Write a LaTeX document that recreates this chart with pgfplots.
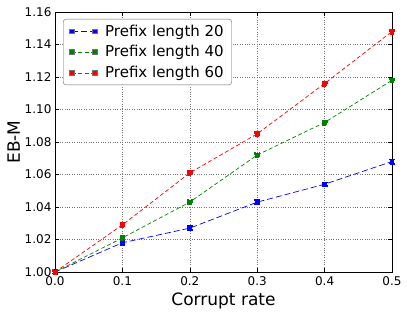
\documentclass[border=0pt]{standalone}
\usepackage{fontspec}
\setmainfont{DejaVu Sans}
\usepackage{pgfplots}
\pgfplotsset{compat=1.18}
\definecolor{mblue}{rgb}{0,0,1}
\definecolor{mgreen}{rgb}{0,0.5,0}
\definecolor{mred}{rgb}{1,0,0}
\pgfplotsset{
  mleg/.style 2 args={legend image code/.code={%
    \draw[#1, line width=0.7pt, sharp corners, #2] (0pt,0pt) -- (23pt,0pt);
    \draw[fill=#1, draw=black!55, line width=0.4pt, solid, sharp corners] (-2.4pt,-2.4pt) rectangle (2.4pt,2.4pt);
    \draw[fill=#1, draw=black!55, line width=0.4pt, solid, sharp corners] (20.6pt,-2.4pt) rectangle (25.4pt,2.4pt);
    \path (31pt,0pt);}}
}
\begin{document}
\begin{tikzpicture}[x=1pt,y=1pt]
\useasboundingbox (0,0) rectangle (407,314);
\begin{axis}[
  at={(55pt,42pt)}, anchor=south west,
  scale only axis, width=337pt, height=260pt,
  xmin=0, xmax=0.5, ymin=1.0, ymax=1.16,
  xtick={0,0.1,0.2,0.3,0.4,0.5},
  ytick={1.00,1.02,1.04,1.06,1.08,1.10,1.12,1.14,1.16},
  xticklabel style={yshift=-1pt, /pgf/number format/fixed, /pgf/number format/fixed zerofill, /pgf/number format/precision=1},
  yticklabel style={/pgf/number format/fixed, /pgf/number format/fixed zerofill, /pgf/number format/precision=2},
  /pgf/number format/assume math mode=true,
  tick label style={font=\fontsize{12}{14}\selectfont},
  label style={font=\fontsize{17}{20}\selectfont},
  xlabel={Corrupt rate}, ylabel={EB-M},
  ylabel style={yshift=-2pt},
  grid=major,
  major grid style={black!55, dotted, line width=0.5pt},
  tick align=inside, major tick length=4pt,
  tick style={black, line width=0.5pt},
  axis line style={line width=0.8pt},
  scaled ticks=false,
  legend style={at={(axis cs:0.0,1.16)}, anchor=north west, xshift=8pt, yshift=-7pt,
    font=\fontsize{15}{18}\selectfont, rounded corners=3pt, draw=black!60,
    row sep=4pt, inner xsep=6pt, inner ysep=3.5pt},
  legend cell align=left,
  every axis plot/.append style={line width=0.7pt, mark=square*, mark size=2.4pt,
    mark options={solid, draw=black!55, line width=0.4pt}},
]
\addplot[color=mblue, dash pattern=on 6pt off 3pt, mark options={fill=mblue},
  mleg={mblue}{dash pattern=on 6pt off 3pt}] coordinates {
 (0,1.000) (0.1,1.018) (0.2,1.027) (0.3,1.043) (0.4,1.054) (0.5,1.068)};
\addlegendentry{Prefix length 20}
\addplot[color=mgreen, dash pattern=on 4pt off 2.5pt, mark options={fill=mgreen},
  mleg={mgreen}{dash pattern=on 4pt off 2.5pt}] coordinates {
 (0,1.000) (0.1,1.021) (0.2,1.043) (0.3,1.072) (0.4,1.092) (0.5,1.118)};
\addlegendentry{Prefix length 40}
\addplot[color=mred, dash pattern=on 4pt off 2.5pt, mark options={fill=mred},
  mleg={mred}{dash pattern=on 4pt off 2.5pt}] coordinates {
 (0,1.000) (0.1,1.029) (0.2,1.061) (0.3,1.085) (0.4,1.116) (0.5,1.148)};
\addlegendentry{Prefix length 60}
\end{axis}
\end{tikzpicture}
\end{document}
